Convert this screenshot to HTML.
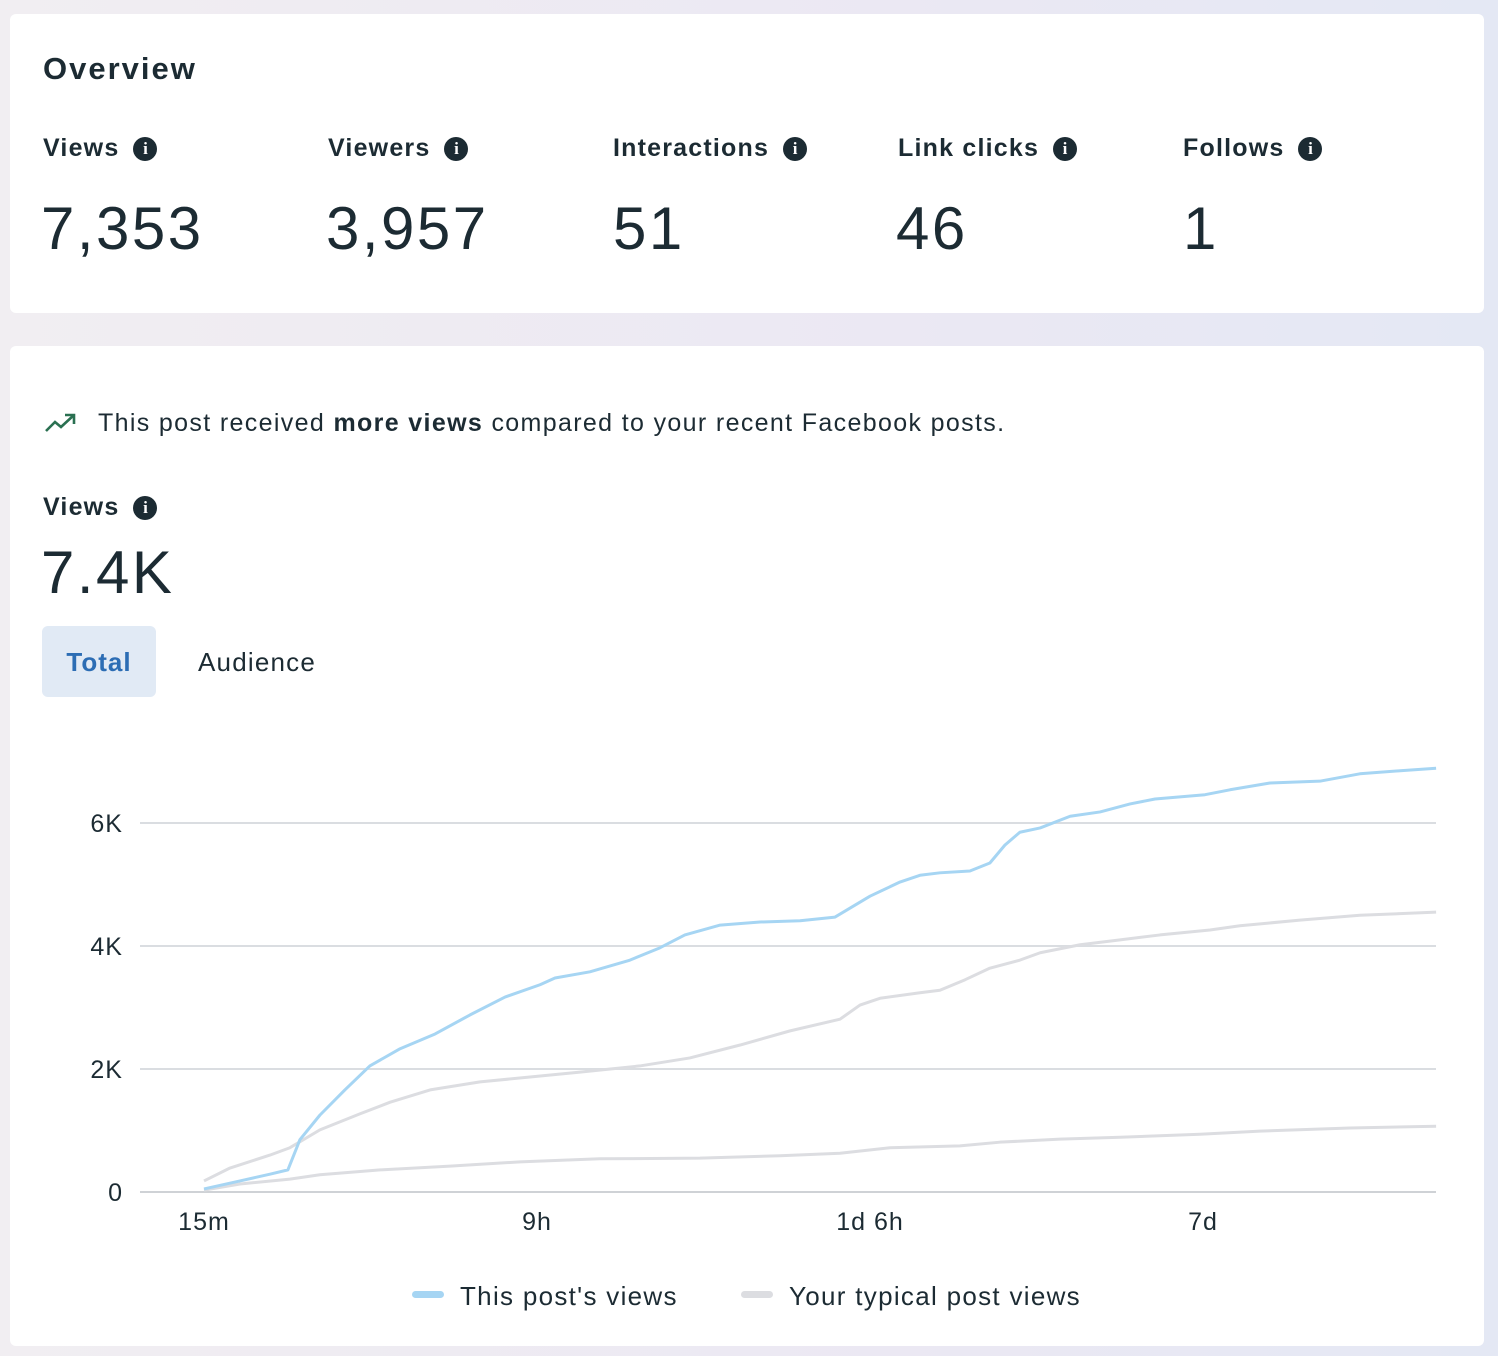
<!DOCTYPE html>
<html><head><meta charset="utf-8"><style>
*{box-sizing:border-box;margin:0;padding:0}
body{width:1498px;height:1356px;overflow:hidden;font-family:"Liberation Sans",sans-serif;color:#1c2b33;background:linear-gradient(90deg,#f1eef2,#ebe8f3 60%,#e4e8f4);position:relative}
.card{position:absolute;left:10px;width:1474px;background:#fff;border-radius:6px}
.abs{position:absolute;white-space:nowrap}
.lbl{font-weight:bold;font-size:25px;top:120px;letter-spacing:1.2px}
.num{font-size:60px;top:180px;color:#1c2b33;letter-spacing:2.5px}
.info{display:inline-block;width:24px;height:24px;border-radius:50%;background:#1c2b33;color:#fff;font-size:17px;font-weight:bold;text-align:center;line-height:24px;font-family:"Liberation Serif",serif;vertical-align:2px;margin-left:14px;letter-spacing:0}
</style></head><body>
<div class="card" style="top:14px;height:299px">
<div class="abs" style="left:33px;top:37px;font-size:31px;font-weight:bold;letter-spacing:2px">Overview</div>
<div class="abs lbl" style="left:33px">Views<span class="info">i</span></div>
<div class="abs num" style="left:31px">7,353</div>
<div class="abs lbl" style="left:318px">Viewers<span class="info">i</span></div>
<div class="abs num" style="left:316px">3,957</div>
<div class="abs lbl" style="left:603px">Interactions<span class="info">i</span></div>
<div class="abs num" style="left:603px">51</div>
<div class="abs lbl" style="left:888px">Link clicks<span class="info">i</span></div>
<div class="abs num" style="left:886px">46</div>
<div class="abs lbl" style="left:1173px">Follows<span class="info">i</span></div>
<div class="abs num" style="left:1173px">1</div>
</div>
<div class="card" style="top:346px;height:1000px">
<svg class="abs" style="left:34px;top:66px" width="34" height="22" viewBox="0 0 34 22"><polyline points="2,19 11,10 17,15 30,3" fill="none" stroke="#2a7051" stroke-width="2.6"/><polyline points="21,3 30,3 30,12" fill="none" stroke="#2a7051" stroke-width="2.6"/></svg>
<div class="abs" style="left:88px;top:63px;font-size:25px;letter-spacing:1.35px">This post received <b>more views</b> compared to your recent Facebook posts.</div>
<div class="abs" style="left:33px;top:147px;font-size:25px;font-weight:bold;letter-spacing:1.2px">Views<span class="info">i</span></div>
<div class="abs" style="left:31px;top:192px;font-size:60px;letter-spacing:2.5px">7.4K</div>
<div class="abs" style="left:32px;top:280px;width:114px;height:71px;background:#e1eaf5;border-radius:6px;color:#2c6db4;font-weight:bold;font-size:26px;text-align:center;line-height:73px;letter-spacing:1px">Total</div>
<div class="abs" style="left:188px;top:280px;height:71px;font-size:26px;line-height:73px;letter-spacing:1.2px">Audience</div>
</div>
<svg id="chart" class="abs" style="left:0;top:0" width="1498" height="1356"></svg>
<script>
const xTickLabels=["15m","9h","1d 6h","7d"];
const yTicks=[0,2,4,6];
const blueX=[0,.108,.198,.252,.288,.348,.423,.498,.589,.694,.799,.904,1.009,1.054,1.159,1.279,1.369,1.444,1.550,1.670,1.790,1.895,2.0,2.090,2.150,2.210,2.300,2.360,2.405,2.450,2.511,2.601,2.691,2.781,2.856,3.006,3.081,3.201,3.351,3.471,3.592,3.700];
const blueY=[.05,.18,.29,.36,.85,1.25,1.66,2.05,2.33,2.57,2.88,3.17,3.37,3.48,3.58,3.77,3.97,4.18,4.34,4.39,4.41,4.47,4.81,5.04,5.15,5.19,5.22,5.35,5.64,5.85,5.92,6.11,6.18,6.31,6.39,6.46,6.54,6.65,6.68,6.80,6.85,6.89];
const upperX=[0,.078,.198,.258,.348,.468,.559,.679,.829,.979,1.129,1.309,1.459,1.610,1.760,1.910,1.970,2.030,2.150,2.210,2.285,2.360,2.450,2.511,2.631,2.751,2.871,3.021,3.111,3.291,3.471,3.700];
const upperY=[.18,.39,.60,.72,1.01,1.27,1.46,1.66,1.79,1.87,1.95,2.05,2.18,2.39,2.62,2.81,3.04,3.15,3.24,3.28,3.45,3.64,3.77,3.89,4.02,4.10,4.18,4.26,4.33,4.42,4.50,4.55];
const lowerX=[0,.108,.258,.348,.529,.739,.949,1.189,1.489,1.730,1.910,2.060,2.270,2.390,2.571,2.751,2.991,3.171,3.441,3.700];
const lowerY=[.03,.13,.21,.28,.36,.42,.49,.54,.55,.59,.63,.72,.75,.81,.86,.89,.94,.99,1.04,1.07];
const svg=document.getElementById('chart');const NS='http://www.w3.org/2000/svg';
const sx=v=>204+v*333, sy=v=>1192-v*61.5;
function mk(t,a){const e=document.createElementNS(NS,t);for(const k in a)e.setAttribute(k,a[k]);svg.appendChild(e);return e;}
yTicks.forEach(v=>{
 const l=mk('line',{x1:140,x2:1436,y1:sy(v),y2:sy(v),stroke:v===0?'#cfd2d6':'#dadde1','stroke-width':2});
 
 
 const t=mk('text',{x:123,y:sy(v)+9,'text-anchor':'end','font-size':25,fill:'#1c2b33','font-family':'Liberation Sans, sans-serif','letter-spacing':1});
 t.textContent=v===0?'0':v+'K';
 
 
});
xTickLabels.forEach((s,i)=>{
 const t=mk('text',{x:sx(i),y:1230,'text-anchor':'middle','font-size':25,fill:'#1c2b33','font-family':'Liberation Sans, sans-serif','letter-spacing':1});
 t.textContent=s;
 
 
});
function line(xs,ys,c,name){
 const p=mk('polyline',{points:xs.map((x,i)=>sx(x)+','+sy(ys[i])).join(' '),fill:'none',stroke:c,'stroke-width':3,'stroke-linejoin':'round'});
 
 
}
line(lowerX,lowerY,'#dcdde1','typical-views-lower-line');
line(upperX,upperY,'#dcdde1','typical-views-upper-line');
line(blueX,blueY,'#a6d5f3','this-post-views-line');
[[412,'#a6d5f3','This post\'s views','legend-this-post'],[741,'#dcdde1','Your typical post views','legend-typical']].forEach(([x,c,s,n])=>{
 const r=mk('rect',{x:x,y:1291,width:32,height:7,rx:3.5,fill:c});
 
 
 const t=mk('text',{x:x+48,y:1305,'font-size':26,fill:'#1c2b33','font-family':'Liberation Sans, sans-serif','letter-spacing':1.3});
 t.textContent=s;
 
 
});
</script>
</body></html>
